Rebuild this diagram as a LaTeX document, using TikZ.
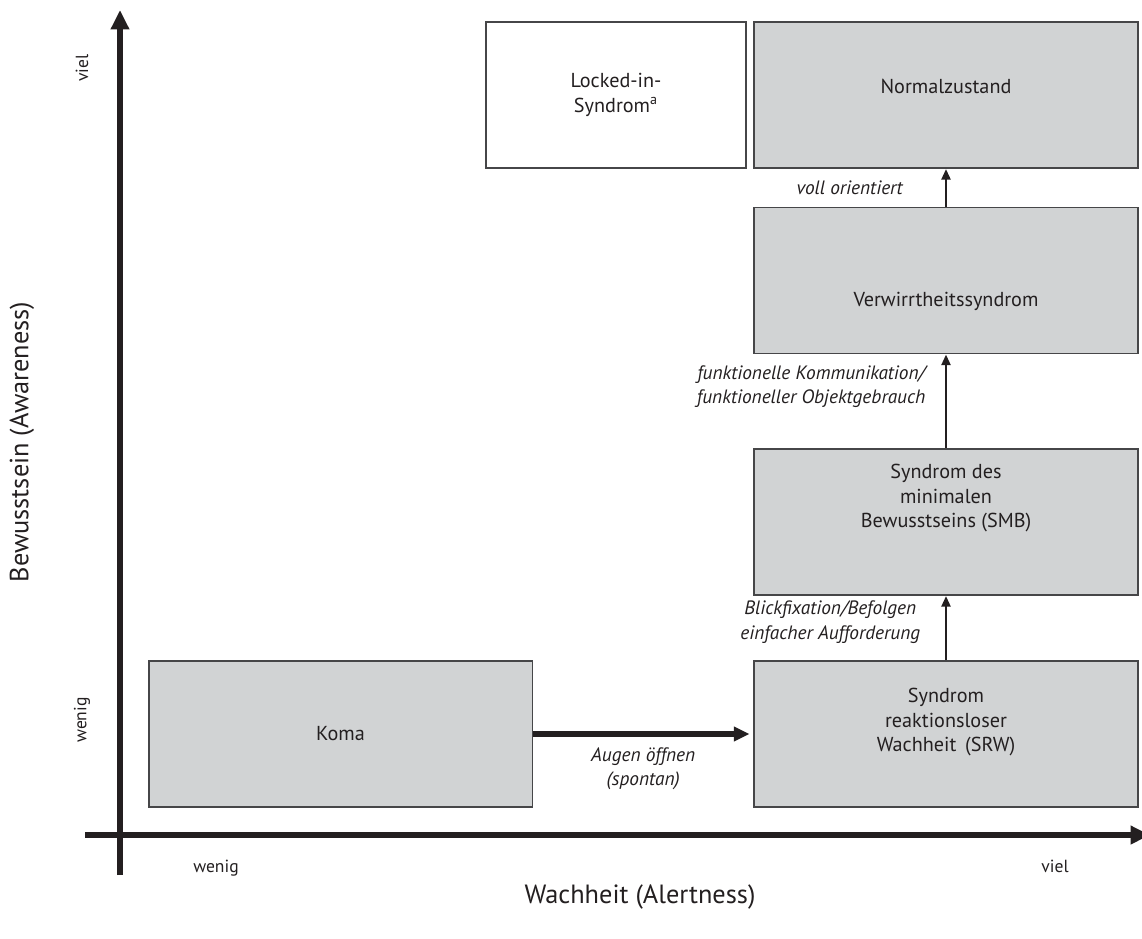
\documentclass[tikz,border=0pt]{standalone}
\usepackage{fontspec}
\setmainfont{PT Sans}
\usetikzlibrary{arrows.meta, positioning, calc}
\definecolor{boxgray}{RGB}{209, 211, 212}
\definecolor{boxline}{RGB}{70, 70, 72}
\definecolor{inkblack}{RGB}{35, 31, 32}

\tikzset{
  state/.style={draw=boxline, line width=1.1pt, fill=boxgray, minimum width=7.68cm, minimum height=2.92cm, inner sep=0pt},
  statetext/.style={font=\fontsize{11.5}{13.8}\selectfont, align=center, text=inkblack, inner sep=0pt},
  axis/.style={draw=inkblack, line width=3.4pt},
  flow/.style={draw=inkblack, line width=1.4pt, -{Triangle[length=6pt, width=5pt]}},
  edgelabel/.style={font=\fontsize{11}{13.8}\selectfont\itshape, align=center, text=inkblack, inner sep=0pt},
  ticklabel/.style={font=\fontsize{10}{12}\selectfont, text=inkblack},
  axistitle/.style={font=\fontsize{15}{18}\selectfont, text=inkblack}
}

\begin{document}
\begin{tikzpicture}[x=0.02cm, y=-0.02cm]
  \useasboundingbox (0,0) rectangle (1142,938);

  % axes
  \coordinate (ybot) at (120,875);
  \coordinate (ytop) at (120,10);
  \coordinate (xleft) at (85,835);
  \coordinate (xright) at (1150,835);
  \draw[axis, -{Triangle[length=11pt, width=10pt]}] (ybot) -- (ytop);
  \draw[axis, -{Triangle[length=11pt, width=10pt]}] (xleft) -- (xright);

  \node[ticklabel, rotate=90] (yviel) at (82,68) {viel};
  \node[ticklabel, rotate=90] (ywenig) at (82,720) {wenig};
  \node[ticklabel] (xwenig) at (216,868) {wenig};
  \node[ticklabel] (xviel) at (1055,866) {viel};
  \node[axistitle, rotate=90] (ytitle) at (22,442) {Bewusstsein (Awareness)};
  \node[axistitle] (xtitle) at (640,897) {Wachheit (Alertness)};

  % states
  \node[state, label={[statetext]center:Koma}] (koma) at (340.5,734) {};
  \node[state, label={[statetext, yshift=6.8pt]center:Syndrom\\reaktionsloser\\Wachheit\ \,(SRW)}] (srw) at (946,734) {};
  \node[state, label={[statetext, yshift=13.6pt]center:Syndrom des\\minimalen\\Bewusstseins (SMB)}] (smb) at (946,522) {};
  \node[state, label={[statetext, yshift=-12pt]center:Verwirrtheitssyndrom}] (verw) at (946,280.5) {};
  \node[state, label={[statetext, yshift=5pt]center:Normalzustand}] (normal) at (946,95) {};
  \node[state, fill=white, minimum width=5.2cm, label={[statetext]center:Locked-in-\\Syndrom\textsuperscript{a}}] (locked) at (616,95) {};

  % transitions
  \draw[draw=inkblack, line width=3.6pt, -{Triangle[length=9pt, width=8pt]}, shorten >=2pt] (koma) -- (srw)
    node[edgelabel, midway, below=6pt] (augen) {Augen öffnen\\(spontan)};
  \draw[flow] (srw) -- (smb)
    node[edgelabel, midway, left=14pt, yshift=3.4pt] (blick) {Blickfixation/Befolgen\\einfacher Aufforderung};
  \draw[flow] (smb) -- (verw)
    node[edgelabel, midway, left=11pt, yshift=8.5pt] (kommu) {funktionelle Kommunikation/\\funktioneller Objektgebrauch};
  \draw[flow] (verw) -- (normal)
    node[edgelabel, midway, left=24pt] (voll) {voll orientiert};
\end{tikzpicture}
\end{document}
